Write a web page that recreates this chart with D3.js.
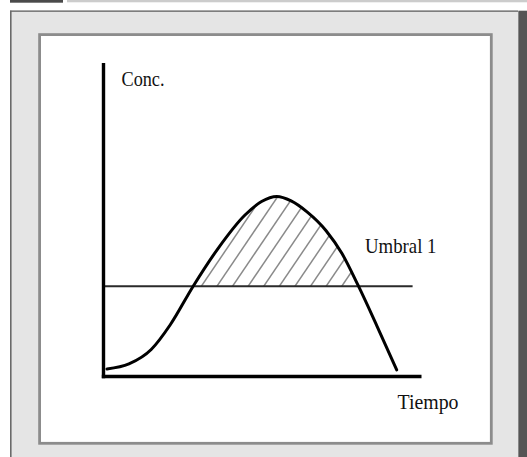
<!DOCTYPE html>
<html><head><meta charset="utf-8">
<script src="https://cdn.jsdelivr.net/npm/d3@7"></script>
<style>html,body{margin:0;padding:0;background:#fff;}svg{display:block;}</style>
</head><body>
<script>
// Data (conceptual units: time 0..100, concentration 0..100)
const timeValues = [1.1, 8, 15, 21, 28.2, 36, 44.5, 49.7, 54.5, 59, 64, 70, 75, 80, 86, 92.2];
const concValues = [2.4, 4.0, 8.6, 16.5, 28.8, 40.8, 51.5, 55.8, 57.4, 56.0, 52.5, 46.5, 39.2, 29.2, 16.1, 2.1];
const thresholdValue = [28.8];
const thresholdSpan = [0, 97.2];
const axisLabels = ["Conc.", "Tiempo"];
const thresholdLabels = ["Umbral 1"];

const W = 527, H = 457;
const svg = d3.select("body").append("svg").attr("width", W).attr("height", H);

// page frame
svg.append("rect").attr("x",0).attr("y",0).attr("width",W).attr("height",H).attr("fill","#fff");
svg.append("rect").attr("x",10).attr("y",0).attr("width",53).attr("height",2.7).attr("fill","#4a4a4a");
svg.append("rect").attr("x",67).attr("y",0).attr("width",W-67).attr("height",2.3).attr("fill","#cccccc");
svg.append("rect").attr("x",10).attr("y",10.7).attr("width",508).attr("height",H).attr("fill","#e5e5e5");
svg.append("line").attr("x1",10).attr("x2",518).attr("y1",11.2).attr("y2",11.2).attr("stroke","#5a5a5a").attr("stroke-width",1.2);
svg.append("line").attr("x1",10.8).attr("x2",10.8).attr("y1",10.7).attr("y2",H).attr("stroke","#6a6a6a").attr("stroke-width",1.6);
svg.append("rect").attr("x",518.3).attr("y",10.7).attr("width",W-518.3).attr("height",H).attr("fill","#555555");
svg.append("rect").attr("x",39.6).attr("y",34.6).attr("width",451.7).attr("height",408.7)
  .attr("fill","#fff").attr("stroke","#8c8c8c").attr("stroke-width",2.8);

// scales
const x = d3.scaleLinear().domain([0,100]).range([103.5, 421.5]);
const y = d3.scaleLinear().domain([0,100]).range([376.5, 63]);

const pts = timeValues.map((t,i)=>({t, c: concValues[i]}));
const thr = thresholdValue[0];
const curve = d3.curveMonotoneX;

// clip: area under curve
const defs = svg.append("defs");
defs.append("clipPath").attr("id","underCurve").append("path")
  .attr("d", d3.area().x(d=>x(d.t)).y0(y(0)).y1(d=>y(d.c)).curve(curve)(pts));
defs.append("clipPath").attr("id","aboveThr").append("rect")
  .attr("x", x(0)).attr("y", y(100)).attr("width", x(100)-x(0)).attr("height", y(thr)-y(100));

// hatching
const hatch = svg.append("g").attr("clip-path","url(#underCurve)")
  .append("g").attr("clip-path","url(#aboveThr)");
const slope = 1.45, step = 15.6, x0h = 200;
const yT = y(thr);
d3.range(-6, 14).forEach(k => {
  const xb = x0h + k*step;
  hatch.append("line")
    .attr("x1", xb).attr("y1", yT + 2)
    .attr("x2", xb + 120/slope).attr("y2", yT - 120)
    .attr("stroke","#8a8a8a").attr("stroke-width",1.5);
});

// threshold line
svg.append("line")
  .attr("x1", x(thresholdSpan[0])).attr("x2", x(thresholdSpan[1]))
  .attr("y1", y(thr)).attr("y2", y(thr))
  .attr("stroke","#2a2a2a").attr("stroke-width",1.9);

// curve
svg.append("path")
  .attr("d", d3.line().x(d=>x(d.t)).y(d=>y(d.c)).curve(curve)(pts))
  .attr("fill","none").attr("stroke","#000").attr("stroke-width",3).attr("stroke-linecap","round");

// axes
const xAxis = svg.append("g").attr("transform",`translate(0,${y(0)})`)
  .call(d3.axisBottom(x).tickValues([]).tickSizeOuter(0));
xAxis.select(".domain").attr("stroke","#000").attr("stroke-width",3.4)
  .attr("d", `M${x(0)-1.7},0H${x(100)}`);
const yAxis = svg.append("g").attr("transform",`translate(${x(0)},0)`)
  .call(d3.axisLeft(y).tickValues([]).tickSizeOuter(0));
yAxis.select(".domain").attr("stroke","#000").attr("stroke-width",3.4)
  .attr("d", `M0,${y(0)+1.7}V${y(100)}`);

// labels
const font = "'Liberation Serif','DejaVu Serif',serif";
function label(txt, xx, yy, len){
  svg.append("text").attr("x",xx).attr("y",yy).text(txt)
    .attr("font-family",font).attr("font-size",21).attr("fill","#111")
    .attr("textLength",len).attr("lengthAdjust","spacingAndGlyphs");
}
label(axisLabels[0], 121.5, 86, 43);
label(axisLabels[1], 397.5, 408.7, 61);
label(thresholdLabels[0], 365, 253, 71.5);
</script>
</body></html>
